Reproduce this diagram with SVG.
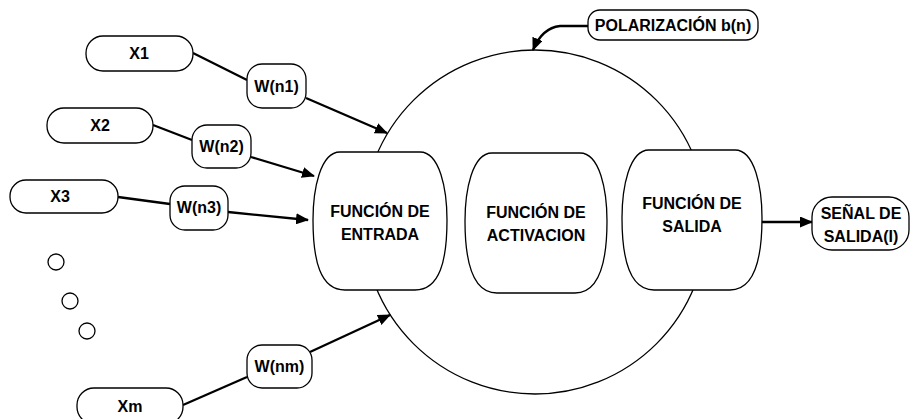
<svg xmlns="http://www.w3.org/2000/svg" width="912" height="419" viewBox="0 0 912 419">
<style>
.box{fill:#fff;stroke:#000;stroke-width:1.3}
.t{font-family:"Liberation Sans",Arial,sans-serif;font-weight:bold;font-size:16px;fill:#000;text-anchor:middle}
.c{fill:none;stroke:#000;stroke-width:2.3}
</style>
<defs>
<marker id="ah" markerWidth="13" markerHeight="11" refX="12" refY="5.5" orient="auto" markerUnits="userSpaceOnUse">
<path d="M0,0 L13,5.5 L0,11 Z" fill="#000"/>
</marker>
</defs>
<rect width="912" height="419" fill="#fff"/>
<g id="neuron">
<circle cx="535" cy="222" r="172" fill="#fff" stroke="#000" stroke-width="1.3"/>
</g>
<g id="connectors">
<path class="c" d="M193,53 L247,80"/>
<path class="c" d="M306,98 L387,133" marker-end="url(#ah)"/>
<path class="c" d="M153,125 L192,140"/>
<path class="c" d="M251,157 L314,176" marker-end="url(#ah)"/>
<path class="c" d="M118,197 L170,204"/>
<path class="c" d="M228,212 L308,220" marker-end="url(#ah)"/>
<path class="c" d="M183,405 L247,377"/>
<path class="c" d="M310,352 L390,315" marker-end="url(#ah)"/>
<path class="c" d="M762,222 L812,222" marker-end="url(#ah)"/>
<path class="c" d="M588,26 L560,26 Q542,28 533,50" marker-end="url(#ah)"/>
</g>
<g id="entrada">
<path class="box" d="M340,152 L420,152 C440,152 447,190 447,220 C447,260 440,290 415,290 L345,290 C320,290 313,260 313,220 C313,190 320,152 340,152 Z"/>
<text class="t" x="380" y="217">FUNCIÓN DE</text>
<text class="t" x="380" y="240">ENTRADA</text>
</g>
<g id="activacion">
<path class="box" d="M492,153 L580,153 C600,153 607,191 607,221 C607,261 600,293 575,293 L497,293 C472,293 465,261 465,221 C465,191 472,153 492,153 Z"/>
<text class="t" x="536" y="218">FUNCIÓN DE</text>
<text class="t" x="536" y="241">ACTIVACION</text>
</g>
<g id="salida">
<path class="box" d="M649,150 L735,150 C755,150 762,188 762,218 C762,258 755,290 730,290 L654,290 C629,290 622,258 622,218 C622,188 629,150 649,150 Z"/>
<text class="t" x="692" y="209">FUNCIÓN DE</text>
<text class="t" x="692" y="232">SALIDA</text>
</g>
<g id="x1"><rect class="box" x="86" y="36" width="107" height="35" rx="17"/><text class="t" x="139" y="59">X1</text></g>
<g id="x2"><rect class="box" x="47" y="108" width="106" height="35" rx="17"/><text class="t" x="100" y="131">X2</text></g>
<g id="x3"><rect class="box" x="10" y="180" width="108" height="33" rx="16"/><text class="t" x="60" y="202">X3</text></g>
<g id="xm"><rect class="box" x="77" y="388" width="106" height="36" rx="17"/><text class="t" x="130" y="412">Xm</text></g>
<g id="wn1"><rect class="box" x="247" y="64" width="59" height="44" rx="15"/><text class="t" x="276.5" y="92">W(n1)</text></g>
<g id="wn2"><rect class="box" x="192" y="125" width="59" height="43" rx="15"/><text class="t" x="221.5" y="152">W(n2)</text></g>
<g id="wn3"><rect class="box" x="170" y="186" width="58" height="44" rx="15"/><text class="t" x="199" y="213">W(n3)</text></g>
<g id="wnm"><rect class="box" x="247" y="345" width="65" height="43" rx="15"/><text class="t" x="279.5" y="372">W(nm)</text></g>
<g id="dots">
<circle cx="56" cy="262" r="8" fill="none" stroke="#000" stroke-width="1.3"/>
<circle cx="70" cy="301" r="8" fill="none" stroke="#000" stroke-width="1.3"/>
<circle cx="87" cy="331" r="8" fill="none" stroke="#000" stroke-width="1.3"/>
</g>
<g id="polarizacion"><rect class="box" x="588" y="10" width="170" height="30" rx="12"/><text class="t" x="673" y="31">POLARIZACIÓN b(n)</text></g>
<g id="senal"><rect class="box" x="812" y="197" width="97" height="53" rx="20"/><text class="t" x="861" y="219">SEÑAL DE</text><text class="t" x="861" y="242">SALIDA(I)</text></g>
</svg>
